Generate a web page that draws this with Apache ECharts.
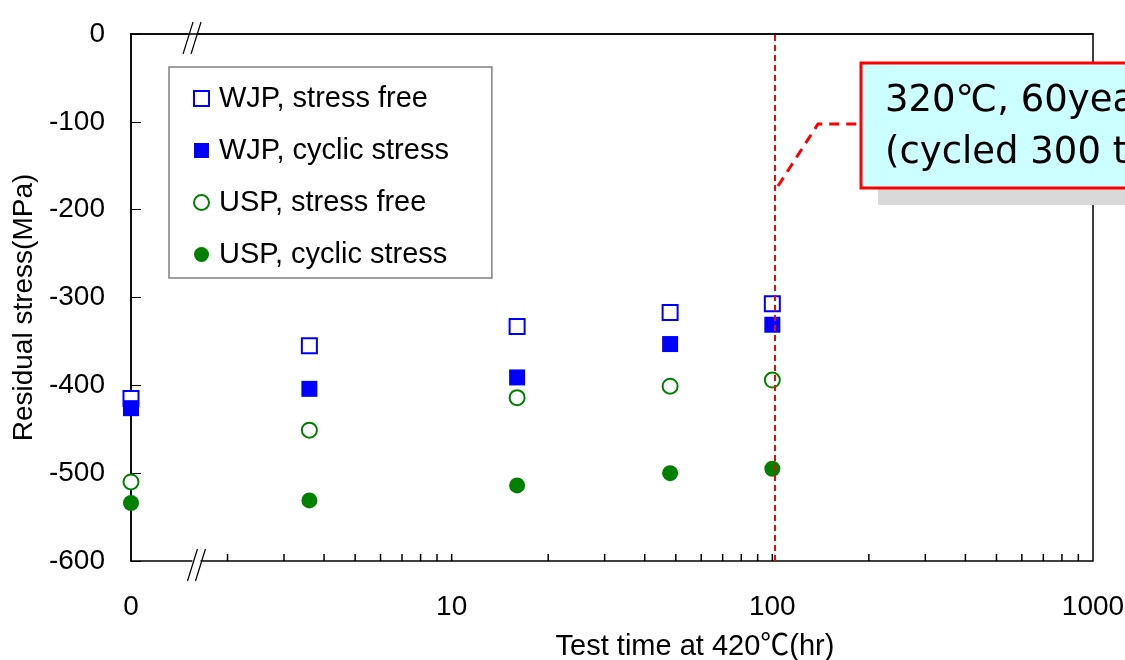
<!DOCTYPE html>
<html>
<head>
<meta charset="utf-8">
<script src="https://cdn.jsdelivr.net/npm/echarts@6/dist/echarts.min.js"></script>
<style>
  html, body { margin: 0; padding: 0; background: #fff; }
  #chart { width: 1125px; height: 660px; }
</style>
</head>
<body>
<div id="chart"></div>
<script>
// 数据
const hours = [1, 3.6, 16, 48, 100];          // 1 is shown as "0"
const wjpFree = [-415, -355, -333, -317, -307];
const wjpCyclic = [-426, -404, -391, -353, -331];
const uspFree = [-510, -451, -414, -401, -394];
const uspCyclic = [-534, -531, -514, -500, -495];
const xLabels = { 1: "0", 10: "10", 100: "100", 1000: "1000" };
const minorTicks = [2, 3, 4, 5, 6, 7, 8, 9, 10, 20, 30, 40, 50, 60, 70, 80, 90,
    100, 200, 300, 400, 500, 600, 700, 800, 900];
const limitHour = 102;
const names = ["WJP, stress free", "WJP, cyclic stress", "USP, stress free", "USP, cyclic stress"];
const FONT = "Liberation Sans, Arial, Noto Sans CJK JP, sans-serif";

function pts(ys) {
    return hours.map((h, i) => [h, ys[i]]);
}

let chart = echarts.init(document.getElementById("chart"));

chart.setOption({
    animation: false,
    backgroundColor: "#fff",
    textStyle: { fontFamily: FONT, color: "#000" },
    grid: {
        left: 131, right: 32, top: 34, bottom: 99,
        outerBoundsMode: "none",
        show: true, borderColor: "#000", borderWidth: 1.5
    },
    legend: {
        data: names,
        left: 169, top: 67,
        orient: "vertical",
        padding: [17, 43, 9, 24],
        itemGap: 23,
        itemWidth: 15, itemHeight: 15,
        backgroundColor: "#fff",
        borderColor: "#808080", borderWidth: 1.5,
        textStyle: { fontSize: 29, color: "#000", fontFamily: FONT, padding: [0, 0, 0, 5] }
    },
    xAxis: {
        type: "log", logBase: 10, min: 1, max: 1000,
        name: "Test time at 420℃(hr)",
        nameLocation: "middle", nameGap: 71,
        nameTextStyle: { fontSize: 29, color: "#000", padding: [0, 0, 0, 166] },
        axisLine: { lineStyle: { color: "#000", width: 1.5 } },
        axisTick: { show: false },
        axisLabel: {
            fontSize: 28, color: "#000", margin: 32,
            formatter: v => xLabels[v] !== undefined ? xLabels[v] : ""
        },
        splitLine: { show: false }
    },
    yAxis: {
        type: "value", min: -600, max: 0, interval: 100,
        name: "Residual stress(MPa)",
        nameLocation: "middle", nameGap: 86,
        nameTextStyle: { fontSize: 28, color: "#000", padding: [0, 20, 0, 0] },
        axisLine: { lineStyle: { color: "#000", width: 1.5 } },
        axisTick: { inside: true, length: 10, lineStyle: { color: "#000" } },
        axisLabel: { fontSize: 28, color: "#000", margin: 26 },
        splitLine: { show: false }
    },
    series: [
        {
            // x 轴刻度 (2..9 每个数量级)
            name: "ticks", type: "scatter", silent: true, z: 1,
            symbol: "rect", symbolSize: [1.5, 7], symbolOffset: [0, -3.5],
            itemStyle: { color: "#000", opacity: 1 },
            data: minorTicks.map(v => [v, -600])
        },
        {
            name: names[0], type: "scatter", symbol: "emptyRect", symbolSize: 15,
            itemStyle: { color: "#0000FF", borderColor: "#0000FF", borderWidth: 1.5, opacity: 1 },
            data: pts(wjpFree)
        },
        {
            name: names[1], type: "scatter", symbol: "rect", symbolSize: 16,
            itemStyle: { color: "#0000FF", opacity: 1 },
            data: pts(wjpCyclic)
        },
        {
            name: names[2], type: "scatter", symbol: "emptyCircle", symbolSize: 15,
            itemStyle: { color: "#008000", borderColor: "#008000", borderWidth: 1.5, opacity: 1 },
            data: pts(uspFree)
        },
        {
            name: names[3], type: "scatter", symbol: "circle", symbolSize: 16,
            itemStyle: { color: "#008000", opacity: 1 },
            data: pts(uspCyclic),
            markLine: {
                silent: true, symbol: "none", label: { show: false },
                lineStyle: { color: "#FF0000", type: [6, 4], width: 2, opacity: 1 },
                data: [{ xAxis: limitHour }]
            }
        }
    ]
});

// 断轴记号 + 注释框
function breakMark(xv, yv) {
    let p = chart.convertToPixel({ gridIndex: 0 }, [xv, yv]);
    let line = dx => ({
        type: "line",
        shape: { x1: p[0] + dx - 5, y1: p[1] + 20, x2: p[0] + dx + 5, y2: p[1] - 12 },
        style: { stroke: "#000", lineWidth: 1.2 }
    });
    return [
        { type: "rect", shape: { x: p[0] - 4, y: p[1] - 2, width: 8, height: 4 }, style: { fill: "#fff" } },
        line(-4), line(4)
    ];
}

const NOTE_FONT = "DejaVu Sans, Liberation Sans, sans-serif";

chart.setOption({
    graphic: [
        ...breakMark(1.55, 0),
        ...breakMark(1.6, -600),
        { type: "rect", z: 100, shape: { x: 878, y: 80, width: 300, height: 125 }, style: { fill: "#D9D9D9" } },
        { type: "polyline", z: 100, shape: { points: [[778, 186], [818, 124], [860, 124]] },
          style: { stroke: "#FF0000", lineWidth: 3, lineDash: [10, 7], fill: null } },
        { type: "rect", z: 101, shape: { x: 861, y: 63, width: 300, height: 125 },
          style: { fill: "#CCFFFF", stroke: "#FF0000", lineWidth: 3 } },
        { type: "text", z: 102, left: 885, top: 83,
          style: { text: "320℃, 60years", fontSize: 37, fontFamily: NOTE_FONT, fill: "#000" } },
        { type: "text", z: 102, left: 885, top: 135,
          style: { text: "(cycled 300 times)", fontSize: 37, fontFamily: NOTE_FONT, fill: "#000" } }
    ]
});
</script>
</body>
</html>
